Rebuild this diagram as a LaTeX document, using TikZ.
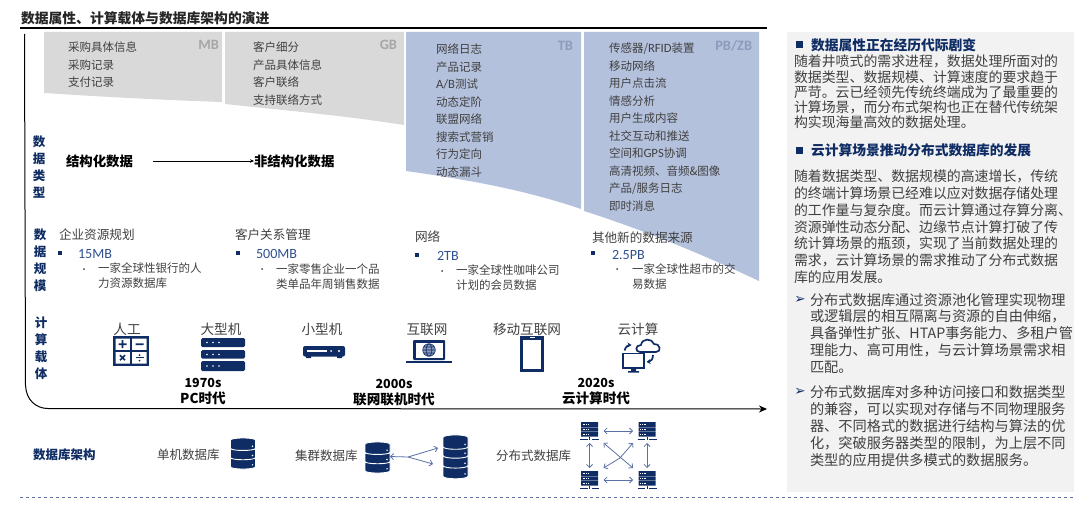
\documentclass[tikz,border=0pt]{standalone}
\usepackage{fontspec}
\setmainfont{Noto Sans CJK SC}
\newfontfamily\cali[Scale=1.1]{Carlito}
\newfontfamily\dejavu{DejaVu Sans}
\usetikzlibrary{arrows.meta}
\definecolor{navy}{HTML}{0F2D64}
\definecolor{bodygray}{HTML}{404040}
\definecolor{greyband}{HTML}{D9D9D9}
\definecolor{blueband}{HTML}{B4C1DD}
\definecolor{sidebg}{HTML}{F2F2F2}
\definecolor{scaleblue}{HTML}{2F5091}
\definecolor{linkblue}{HTML}{5B70A5}
\definecolor{taggrey}{HTML}{A6A6A6}
\definecolor{tagblue}{HTML}{8D9ABB}
\tikzset{
  pics/dbdisk/.style={code={
    \fill[navy,draw=white,line width=.9pt] (-12.5,-2) -- (-12.5,6) .. controls (-12.5,9) and (12.5,9) .. (12.5,6) -- (12.5,-2) .. controls (12.5,-5) and (-12.5,-5) .. cycle;
    \fill[white] (9.5,4) circle (.8);
  }},
  pics/srvicon/.style={code={
    \fill[navy] (-8.5,-9) rectangle (8.5,-4.2) (-8.5,-3.6) rectangle (8.5,.6) (-8.5,1.2) rectangle (8.5,5.5);
    \draw[white,line width=.6pt,dash pattern=on 1pt off .8pt] (-7,-6.6) -- (0,-6.6) (-7,-1.5) -- (0,-1.5) (-7,3.3) -- (0,3.3);
    \draw[navy,line width=.8pt] (0,5.5) -- (0,9) (-9.5,8.8) -- (-2,8.8) (2,8.8) -- (9.5,8.8);
  }},
  pics/calcicon/.style={code={
    \fill[navy] (-18,-15) rectangle (18,15);
    \fill[white] (-15.5,-12.5) rectangle (-1.2,-1.2) (1.2,-12.5) rectangle (15.5,-1.2) (-15.5,1.2) rectangle (-1.2,12.5) (1.2,1.2) rectangle (15.5,12.5);
    \draw[navy,line width=1.6pt] (-12.5,-6.8) -- (-4.5,-6.8) (-8.5,-10.8) -- (-8.5,-2.8) (4.5,-6.8) -- (12.5,-6.8) (-11,4.2) -- (-6,9.2) (-11,9.2) -- (-6,4.2);
    \draw[navy,line width=1pt] (4.5,6.8) -- (12.5,6.8);
    \fill[navy] (8.5,4) circle (1) (8.5,9.6) circle (1);
  }},
  pics/rackicon/.style={code={
    \fill[navy,rounded corners=1.5pt] (-22,-16.5) rectangle (22,-7.5) (-22,-4.5) rectangle (22,4) (-22,6.5) rectangle (22,16.5);
    \fill[white] (-16,-12) circle (.9) (-10,-12) circle (.9) (-4,-12) circle (.9) (-16,0) circle (.9) (-10,0) circle (.9) (-4,0) circle (.9) (-16,11.5) circle (.9) (-10,11.5) circle (.9) (-4,11.5) circle (.9);
  }},
  pics/boxicon/.style={code={
    \fill[navy,rounded corners=2pt] (-21,-5.5) rectangle (21,5);
    \fill[navy] (-18,4) rectangle (-13,6.5) (13,4) rectangle (18,6.5);
    \draw[white,line width=1.2pt] (-17,-.5) -- (3,-.5);
    \fill[white] (7,-.5) circle (1) (15,-.5) circle (1.2);
  }},
  pics/laptopicon/.style={code={
    \fill[navy,rounded corners=1pt] (-16,-11) rectangle (16,9);
    \fill[white] (-13.5,-8.5) rectangle (13.5,6.5);
    \fill[navy] (-23,9.5) rectangle (22.5,12);
    \fill[tagblue] (0,-1) circle (6.3);
    \draw[navy,line width=.6pt] (0,-1) circle (6.3) (0,-1) ellipse (2.8 and 6.3) (-6.3,-1) -- (6.3,-1) (-5.5,-4) -- (5.5,-4) (-5.5,2) -- (5.5,2);
  }},
  pics/tableticon/.style={code={
    \fill[navy] (-12,-18) rectangle (12,18);
    \fill[white] (-9,-14.5) rectangle (9,14.5);
    \fill[white] (-2.5,-16.8) rectangle (2.5,-15.8);
  }},
  pics/cloudicon/.style={code={
    \draw[navy,line width=1.6pt] (-16,-2.5) rectangle (5,12);
    \fill[navy] (-8,12) rectangle (-3,15.5) (-11,15) rectangle (0,16.5);
    \draw[navy,line width=1.7pt,fill=white] (1,-4) .. controls (-4,-4) and (-4,-11) .. (2,-11) .. controls (3,-18) and (13,-18) .. (15,-12) .. controls (21,-13) and (23,-4) .. (17,-4) -- cycle;
    \draw[navy,line width=1.7pt,-{Stealth[length=4pt,width=5pt]}] (-14.5,-5.5) .. controls (-13.5,-9) and (-11,-11) .. (-7.5,-11);
    \draw[navy,line width=1.7pt,-{Stealth[length=4pt,width=5pt]}] (14,-1) .. controls (14,3) and (12,5.5) .. (7.5,6);
  }}
}
\begin{document}
\begin{tikzpicture}[x=1pt,y=-1pt,every node/.style={inner sep=0pt,outer sep=0pt},
  boxtitle/.style={anchor=west,font=\fontsize{13.8}{16}\selectfont\bfseries,text=black!85},
  itemlist/.style={anchor=north west,align=left,text=bodygray,font=\fontsize{11.5}{17.5}\selectfont},
  sizetag/.style={anchor=east,font=\cali\fontsize{13}{15}\selectfont\bfseries},
  sidelabel/.style={align=center,text=navy,font=\fontsize{12.5}{17}\selectfont\bfseries},
  bigtype/.style={anchor=west,text=black,font=\fontsize{13.4}{15}\selectfont\bfseries},
  scalehead/.style={anchor=west,text=bodygray,font=\fontsize{12.6}{15}\selectfont},
  scalesize/.style={anchor=west,text=scaleblue,font=\cali\fontsize{12.8}{15}\selectfont},
  scaletext/.style={anchor=north west,align=left,text=bodygray,font=\fontsize{11.5}{15}\selectfont},
  tick/.style={rectangle,fill=navy,minimum size=3.5pt},
  dot/.style={circle,fill=bodygray,minimum size=2pt},
  iconlabel/.style={text=bodygray,font=\fontsize{13.6}{15}\selectfont},
  eralabel/.style={align=center,text=black,font=\fontsize{13.6}{16}\selectfont\bfseries},
  dblabel/.style={anchor=west,text=bodygray,font=\fontsize{12.5}{15}\selectfont},
  linkline/.style={linkblue,line width=.8pt},
  linkarrow/.style={linkline,{Straight Barb[length=3pt,width=6pt]}-{Straight Barb[length=3pt,width=6pt]}},
  sidehead/.style={anchor=west,text=navy,font=\fontsize{13.75}{15}\selectfont\bfseries},
  sidetick/.style={rectangle,fill=navy,minimum size=7pt},
  sidepara/.style={anchor=north west,align=left,text=bodygray},
  sidearrow/.style={text=navy,font=\dejavu\fontsize{13.5}{14}\selectfont}]
\useasboundingbox (0,0) rectangle (1083,508);

\fill[sidebg] (787,32) rectangle (1074,492);
\fill[greyband] (44,32) -- (222,32) -- (222,102) .. controls (160,100) and (90,96) .. (44,93) -- cycle;
\fill[greyband] (225,32) -- (404,32) -- (404,125) .. controls (340,115) and (280,110) .. (225,104) -- cycle;
\fill[blueband] (406,32) -- (581,32) -- (581,209) .. controls (525,190) and (470,180) .. (406,171) -- cycle;
\fill[blueband] (584,32) -- (759,32) -- (759,281) .. controls (710,258) and (650,232) .. (584,211) -- cycle;

\node[boxtitle] (maintitle) at (21,18) {数据属性、计算载体与数据库架构的演进};
\draw[black,line width=1.5pt] (20,28) -- (767,28);
\draw[black,line width=1pt,-{Stealth[length=8pt,width=7pt]}] (24.5,34) -- (25.5,385) .. controls (26,400) and (36,408.5) .. (48,408.5) -- (767,409);

\node[itemlist] (mbitems) at (68,42) {采购具体信息\\采购记录\\支付记录};
\node[itemlist] (gbitems) at (253,42) {客户细分\\产品具体信息\\客户联络\\支持联络方式};
\node[itemlist] (tbitems) at (436,44) {网络日志\\产品记录\\{\cali A/B}测试\\动态定阶\\联盟网络\\搜索式营销\\行为定向\\动态漏斗};
\node[itemlist] (pbitems) at (609,43) {传感器/{\cali RFID}装置\\移动网络\\用户点击流\\情感分析\\用户生成内容\\社交互动和推送\\空间和{\cali GPS}协调\\高清视频、音频\&图像\\产品/服务日志\\即时消息};
\node[sizetag,text=taggrey] (mbtag) at (219,45) {MB};
\node[sizetag,text=taggrey] (gbtag) at (397,45) {GB};
\node[sizetag,text=tagblue] (tbtag) at (573,46) {TB};
\node[sizetag,text=tagblue] (pbtag) at (752,46) {PB/ZB};

\node[sidelabel] (typelabel) at (39,167) {数\\据\\类\\型};
\node[sidelabel] (scalelabel) at (40,260.5) {数\\据\\规\\模};
\node[sidelabel] (carrierlabel) at (41,348) {计\\算\\载\\体};

\node[bigtype] (structured) at (66,161) {结构化数据};
\node[bigtype] (unstructured) at (254,161) {非结构化数据};
\draw[black,line width=.6pt,-{Stealth[length=4pt,width=3.5pt]}] (153,161) -- (unstructured.west);

\node[scalehead] (erphead) at (59,235) {企业资源规划};
\node[tick] (erptick) at (60,253) {};
\node[scalesize] (erpsize) at (78,254) {15MB};
\node[dot] (erpdot) at (84,269) {};
\node[scaletext] (erptext) at (98,263) {一家全球性银行的人\\力资源数据库};

\node[scalehead] (crmhead) at (235,235) {客户关系管理};
\node[tick] (crmtick) at (238,253) {};
\node[scalesize] (crmsize) at (256,254) {500MB};
\node[dot] (crmdot) at (262,269) {};
\node[scaletext] (crmtext) at (276,264) {一家零售企业一个品\\类单品年周销售数据};

\node[scalehead] (nethead) at (415,237) {网络};
\node[tick] (nettick) at (417,255) {};
\node[scalesize] (netsize) at (437,256) {2TB};
\node[dot] (netdot) at (442,271) {};
\node[scaletext] (nettext) at (456,265) {一家全球性咖啡公司\\计划的会员数据};

\node[scalehead] (newhead) at (592,238) {其他新的数据来源};
\node[tick] (newtick) at (593,253) {};
\node[scalesize] (newsize) at (612,255) {2.5PB};
\node[dot] (newdot) at (617,269) {};
\node[scaletext] (newtext) at (632,264) {一家全球性超市的交\\易数据};

\node[iconlabel] (manual) at (127,329) {人工};
\node[iconlabel] (mainframe) at (221,329) {大型机};
\node[iconlabel] (minicomp) at (322,329) {小型机};
\node[iconlabel] (internet) at (427,329) {互联网};
\node[iconlabel] (mobile) at (527,329) {移动互联网};
\node[iconlabel] (cloud) at (638,329) {云计算};
\pic at (131,351) {calcicon};
\pic at (223,354.5) {rackicon};
\pic at (324,351.5) {boxicon};
\pic at (429,351) {laptopicon};
\pic at (532,354) {tableticon};
\pic at (639,356) {cloudicon};

\node[eralabel] (era1970) at (203,392) {{\fontsize{12.5}{16}\selectfont 1970s}\\PC时代};
\node[eralabel] (era2000) at (394,393) {{\fontsize{12.5}{16}\selectfont 2000s}\\联网联机时代};
\node[eralabel] (era2020) at (596,392) {{\fontsize{12.5}{16}\selectfont 2020s}\\云计算时代};

\node[anchor=west,text=navy,font=\fontsize{12.5}{15}\selectfont\bfseries] (dbarch) at (33,455) {数据库架构};
\node[dblabel] (dbsingle) at (157,455) {单机数据库};
\node[dblabel] (dbcluster) at (295,456) {集群数据库};
\node[dblabel] (dbdist) at (496,456) {分布式数据库};

\pic at (243,460.8) {dbdisk};
\pic at (243,451.5) {dbdisk};
\pic at (243,442.2) {dbdisk};

\node[minimum width=25pt,minimum height=30pt] (dbleft) at (377.5,456.5) {};
\pic at (377.5,464.8) {dbdisk};
\pic at (377.5,455.5) {dbdisk};
\pic at (377.5,446.2) {dbdisk};

\node[minimum width=25pt,minimum height=44pt] (dbright) at (455.5,457) {};
\pic[yscale=1.15] at (455.5,469.3) {dbdisk};
\pic[yscale=1.15] at (455.5,458.6) {dbdisk};
\pic[yscale=1.15] at (455.5,448.7) {dbdisk};
\pic[yscale=1.15] at (455.5,439.8) {dbdisk};
\coordinate (fork) at (408,457);
\coordinate (dbup) at (438,448);
\coordinate (dbdown) at (433,464);
\draw[linkline,{Straight Barb[length=3pt,width=6pt]}-] (dbleft.east) -- (fork);
\draw[linkline,-{Straight Barb[length=3pt,width=6pt]}] (fork) -- (dbup);
\draw[linkline,-{Straight Barb[length=3pt,width=6pt]}] (fork) -- (dbdown);

\node[minimum width=28pt,minimum height=24pt] (srvtl) at (589.5,431) {};
\node[minimum width=28pt,minimum height=24pt] (srvtr) at (647,431) {};
\node[minimum width=28pt,minimum height=24pt] (srvbl) at (589.5,480) {};
\node[minimum width=28pt,minimum height=24pt] (srvbr) at (647,480) {};
\pic at (srvtl) {srvicon};
\pic at (srvtr) {srvicon};
\pic at (srvbl) {srvicon};
\pic at (srvbr) {srvicon};
\coordinate (distmid) at (620,458);
\draw[linkarrow] (srvtl) -- (srvtr);
\draw[linkarrow] (srvbl) -- (srvbr);
\draw[linkarrow] (srvtl) -- (srvbl);
\draw[linkarrow] (srvtr) -- (srvbr);
\draw[linkarrow] (srvtl.south east) -- (srvbr.north west);
\draw[linkarrow] (srvtr.south west) -- (distmid) -- (srvbl.north east);

\node[sidetick] (headtick1) at (799,45) {};
\node[sidehead] (head1) at (811,45) {数据属性正在经历代际剧变};
\node[sidepara,font=\fontsize{13.9}{15.3}\selectfont] (para1) at (794,55) {随着井喷式的需求进程，数据处理所面对的\\数据类型、数据规模、计算速度的要求趋于\\严苛。云已经领先传统终端成为了最重要的\\计算场景，而分布式架构也正在替代传统架\\构实现海量高效的数据处理。};
\node[sidetick] (headtick2) at (799,150) {};
\node[sidehead] (head2) at (811,150) {云计算场景推动分布式数据库的发展};
\node[sidepara,font=\fontsize{13.9}{16.8}\selectfont] (para2) at (794,170) {随着数据类型、数据规模的高速增长，传统\\的终端计算场景已经难以应对数据存储处理\\的工作量与复杂度。而云计算通过存算分离、\\资源弹性动态分配、边缘节点计算打破了传\\统计算场景的瓶颈，实现了当前数据处理的\\需求，云计算场景的需求推动了分布式数据\\库的应用发展。};
\node[sidearrow] (arrow1) at (800,300) {➢};
\node[sidepara,font=\fontsize{14.2}{16.8}\selectfont] (para3) at (810,293) {分布式数据库通过资源池化管理实现物理\\或逻辑层的相互隔离与资源的自由伸缩，\\具备弹性扩张、HTAP事务能力、多租户管\\理能力、高可用性，与云计算场景需求相\\匹配。};
\node[sidearrow] (arrow2) at (800,392) {➢};
\node[sidepara,font=\fontsize{14.2}{16.8}\selectfont] (para4) at (810,386) {分布式数据库对多种访问接口和数据类型\\的兼容，可以实现对存储与不同物理服务\\器、不同格式的数据进行结构与算法的优\\化，突破服务器类型的限制，为上层不同\\类型的应用提供多模式的数据服务。};

\draw[linkblue,line width=.8pt,dashed] (20,497) -- (1073,497);
\end{tikzpicture}
\end{document}
